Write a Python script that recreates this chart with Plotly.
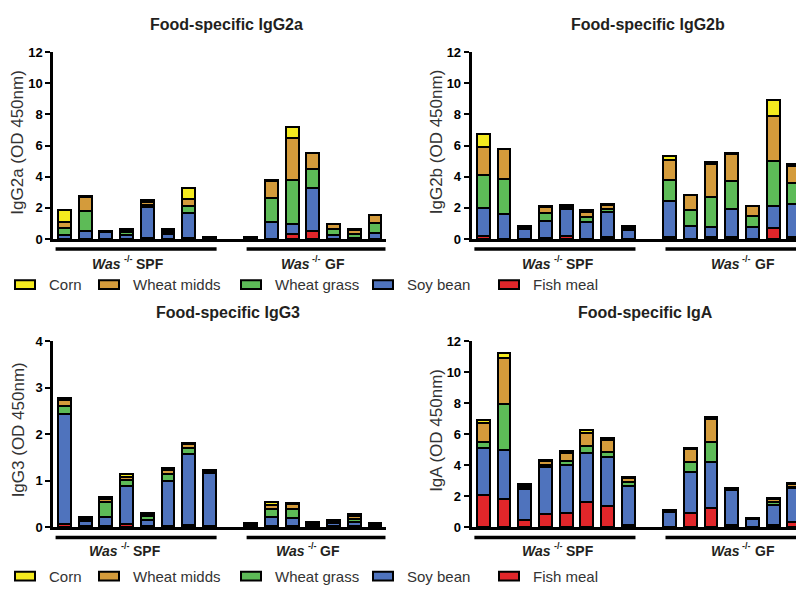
import plotly.graph_objects as go

W, H = 804, 600
OFF = 8  # page body margin: the figure is drawn 8 px right and down

# ---------------- data ----------------
foods = ["Fish meal", "Soy bean", "Wheat grass", "Wheat midds", "Corn"]  # stack order bottom->top
colors = {"Corn": "#F4EA1F", "Wheat midds": "#D49B3B", "Wheat grass": "#5DBB57",
          "Soy bean": "#4F73BD", "Fish meal": "#E1262A"}
legend_order = ["Corn", "Wheat midds", "Wheat grass", "Soy bean", "Fish meal"]

mouse_pos = [0, 1, 2, 3, 4, 5, 6, 7, 9, 10, 11, 12, 13, 14, 15]  # 8 SPF mice, gap, 7 GF mice

igg2a_fish  = [0.02, 0.02, 0.02, 0.02, 0.05, 0.02, 0.05, 0.02, 0.02, 0.02, 0.31, 0.52, 0.02, 0.02, 0.02]
igg2a_soy   = [0.21, 0.52, 0.42, 0.23, 2.03, 0.33, 1.64, 0.05, 0.03, 1.09, 0.65, 2.74, 0.22, 0.04, 0.38]
igg2a_grass = [0.46, 1.26, 0.03, 0.17, 0.12, 0.10, 0.42, 0.03, 0.02, 1.52, 2.84, 1.23, 0.42, 0.29, 0.60]
igg2a_midds = [0.37, 0.91, 0.03, 0.17, 0.20, 0.10, 0.46, 0.03, 0.02, 1.11, 2.69, 1.00, 0.31, 0.25, 0.54]
igg2a_corn  = [0.78, 0.02, 0.03, 0.07, 0.08, 0.08, 0.69, 0.02, 0.01, 0.03, 0.73, 0.02, 0.02, 0.03, 0.02]

igg2b_fish  = [0.20, 0.02, 0.02, 0.05, 0.20, 0.02, 0.15, 0.02, 0.15, 0.02, 0.15, 0.12, 0.02, 0.69, 0.15]
igg2b_soy   = [1.80, 1.57, 0.61, 1.10, 1.72, 1.06, 1.60, 0.56, 2.30, 0.84, 0.62, 1.80, 0.75, 1.42, 2.10]
igg2b_grass = [2.13, 2.29, 0.07, 0.50, 0.10, 0.36, 0.20, 0.10, 1.36, 0.98, 1.94, 1.78, 0.71, 2.90, 1.32]
igg2b_midds = [1.78, 1.90, 0.07, 0.42, 0.13, 0.32, 0.22, 0.08, 1.29, 0.96, 2.12, 1.77, 0.63, 2.88, 1.12]
igg2b_corn  = [0.83, 0.02, 0.06, 0.04, 0.06, 0.10, 0.07, 0.07, 0.20, 0.03, 0.10, 0.03, 0.02, 1.00, 0.10]

igg3_fish  = [0.06, 0.02, 0.02, 0.07, 0.02, 0.03, 0.05, 0.02, 0.02, 0.02, 0.02, 0.02, 0.02, 0.02, 0.02]
igg3_soy   = [2.37, 0.11, 0.19, 0.82, 0.14, 0.96, 1.53, 1.15, 0.03, 0.19, 0.18, 0.04, 0.08, 0.09, 0.03]
igg3_grass = [0.17, 0.03, 0.33, 0.13, 0.08, 0.16, 0.12, 0.02, 0.02, 0.18, 0.20, 0.02, 0.02, 0.07, 0.02]
igg3_midds = [0.13, 0.03, 0.06, 0.07, 0.03, 0.07, 0.09, 0.02, 0.02, 0.09, 0.10, 0.02, 0.02, 0.06, 0.02]
igg3_corn  = [0.05, 0.02, 0.06, 0.05, 0.03, 0.05, 0.03, 0.03, 0.01, 0.06, 0.02, 0.02, 0.02, 0.05, 0.01]

iga_fish  = [2.06, 1.85, 0.46, 0.86, 0.94, 1.62, 1.36, 0.15, 0.02, 0.90, 1.26, 0.15, 0.02, 0.15, 0.33]
iga_soy   = [3.08, 3.14, 2.02, 3.00, 3.05, 3.14, 3.15, 2.52, 0.97, 2.67, 2.94, 2.26, 0.50, 1.28, 2.17]
iga_grass = [0.38, 2.98, 0.10, 0.13, 0.27, 0.48, 0.36, 0.22, 0.05, 0.63, 1.30, 0.06, 0.04, 0.20, 0.12]
iga_midds = [1.23, 2.94, 0.14, 0.30, 0.55, 0.86, 0.76, 0.27, 0.05, 0.83, 1.47, 0.05, 0.03, 0.17, 0.17]
iga_corn  = [0.17, 0.31, 0.07, 0.07, 0.08, 0.17, 0.10, 0.10, 0.04, 0.05, 0.12, 0.04, 0.02, 0.07, 0.06]

panels = [
    dict(title="Food-specific IgG2a", ylab="IgG2a (OD 450nm)", ymax=12, dtick=2,
         data=[igg2a_fish, igg2a_soy, igg2a_grass, igg2a_midds, igg2a_corn]),
    dict(title="Food-specific IgG2b", ylab="IgG2b (OD 450nm)", ymax=12, dtick=2,
         data=[igg2b_fish, igg2b_soy, igg2b_grass, igg2b_midds, igg2b_corn]),
    dict(title="Food-specific IgG3", ylab="IgG3 (OD 450nm)", ymax=4, dtick=1,
         data=[igg3_fish, igg3_soy, igg3_grass, igg3_midds, igg3_corn]),
    dict(title="Food-specific IgA", ylab="IgA (OD 450nm)", ymax=12, dtick=2,
         data=[iga_fish, iga_soy, iga_grass, iga_midds, iga_corn]),
]
genotype = "Was"
genotype_sup = "-/-"
group_names = ["SPF", "GF"]
group_spans = [(-0.43, 7.35), (8.8, 15.52)]

# ---------------- layout geometry (screen pixels) ----------------
def fx(p):
    return (p - OFF) / W

def fy(p):
    return 1 - (p - OFF) / H

# (axis-left, axis-right, y top, y zero, xrange, title x, title y, ylab x, ylab y,
#  bracket y, group label y, group label anchor x for SPF / GF)
geo = [
    (53.3, 385.7, 46.0, 237.7, [-0.54, 15.52], 226.5, 18, 18, 139, 248, 263, (122.0, 310.5)),
    (471.7, 804.0, 46.0, 237.7, [-0.56, 15.49], 648.0, 18, 436.5, 138, 248, 263, (552.0, 740.5)),
    (53.3, 385.7, 342.7, 533.3, [-0.54, 15.52], 227.5, 313, 18, 434, 544, 557.5, (119.0, 306.0)),
    (471.7, 804.0, 342.7, 533.3, [-0.56, 15.49], 645.5, 313, 436.5, 434, 544, 557.5, (552.0, 740.5)),
]

FONT = "Arial, Liberation Sans, Helvetica, sans-serif"
TXT = "#231F20"
fig = go.Figure()
annotations = []
shapes = []

def label(text, x, y, size, color=TXT, weight="normal", style="normal", xanchor="center", angle=0):
    annotations.append(dict(text=text, x=fx(x), y=fy(y), xref="paper", yref="paper",
                            showarrow=False, xanchor=xanchor, yanchor="middle", textangle=angle,
                            borderpad=0,
                            font=dict(family=FONT, size=size, color=color, weight=weight, style=style)))

for i, (pan, g) in enumerate(zip(panels, geo)):
    ax = "" if i == 0 else str(i + 1)
    xl, xr, yt, y0, xrng, tx, ty, lx, ly, by, gy, gxs = g
    for food, vals in zip(foods, pan["data"]):
        fig.add_trace(go.Bar(
            x=mouse_pos, y=vals, name=food, width=0.62,
            marker=dict(color=colors[food], line=dict(color="black", width=2)),
            xaxis="x" + ax, yaxis="y" + ax, showlegend=False,
            hovertemplate=food + ": %{y}<extra></extra>",
        ))
    fig.layout["xaxis" + ax] = dict(
        domain=[fx(xl), fx(xr)], range=xrng, anchor="y" + ax,
        showline=True, linecolor="black", linewidth=3, ticks="", showticklabels=False,
        showgrid=False, zeroline=False, fixedrange=True)
    fig.layout["yaxis" + ax] = dict(
        domain=[fy(y0), fy(yt)], range=[0, pan["ymax"]], anchor="x" + ax,
        tickmode="linear", tick0=0, dtick=pan["dtick"],
        showline=True, linecolor="black", linewidth=3,
        ticks="outside", ticklen=5, tickwidth=2, tickcolor="black",
        tickfont=dict(family=FONT, size=13, color="black", weight="bold"),
        showgrid=False, zeroline=False, fixedrange=True)
    label(pan["title"], tx, ty, 16, weight="bold")
    label(pan["ylab"], lx, ly, 17, color="#333333", angle=-90)
    for (s, e), name, gx in zip(group_spans, group_names, gxs):
        shapes.append(dict(type="line", xref="x" + ax, yref="paper", x0=s, x1=e,
                           y0=fy(by), y1=fy(by), line=dict(color="black", width=3.5)))
        label(genotype, gx, gy, 14, weight="bold", style="italic", xanchor="right")
        label(genotype_sup, gx + 0.5, gy - 4.5, 9, weight="bold", xanchor="left")
        label(name, gx + 13, gy, 14, weight="bold", xanchor="left")

# ---------------- legends (one row under each row of panels) ----------------
leg_box_x = [15, 99, 241, 373, 499]
for ly in (284.5, 583.5):
    for name, bx in zip(legend_order, leg_box_x):
        shapes.append(dict(type="rect", xref="paper", yref="paper",
                           x0=fx(bx), x1=fx(bx + 20), y0=fy(ly + 4.5), y1=fy(ly - 4.5),
                           fillcolor=colors[name], line=dict(color="black", width=2)))
        label(name, bx + 33, ly, 15, color="#333333", xanchor="left")

fig.update_layout(
    width=W, height=H, margin=dict(l=0, r=0, t=0, b=0),
    barmode="stack", paper_bgcolor="white", plot_bgcolor="white",
    annotations=annotations, shapes=shapes, showlegend=False,
    font=dict(family=FONT),
)

fig.write_html("out.html")
